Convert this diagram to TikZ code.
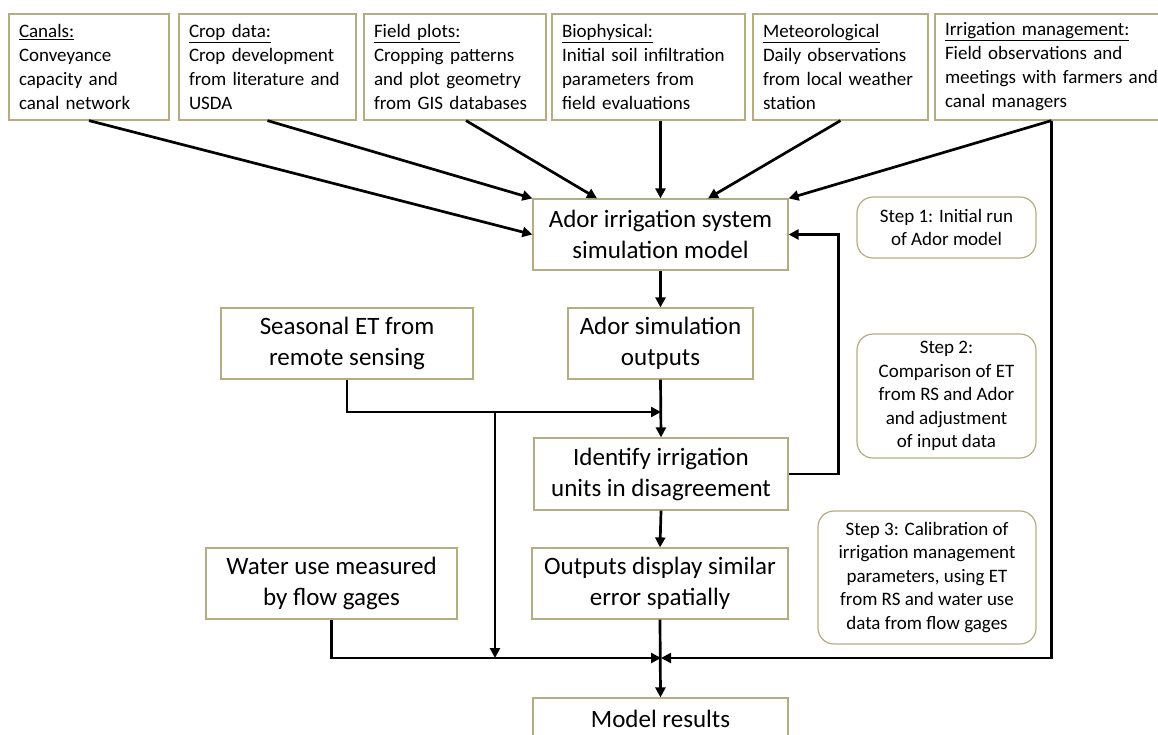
\documentclass[tikz,border=0pt]{standalone}
\usepackage{fontspec}
\setmainfont{Carlito}
\usetikzlibrary{arrows.meta}
\definecolor{boxc}{HTML}{B5AC82}
\tikzset{
  topbox/.style={draw=boxc, line width=1.2pt, minimum height=106pt, inner xsep=10pt, inner ysep=0pt,
    align=left, font=\fontsize{19}{24}\selectfont},
  midbox/.style={draw=boxc, line width=1.2pt, minimum height=71pt, inner sep=0pt,
    align=center, font=\fontsize{25}{31}\selectfont},
  stepbox/.style={draw=boxc, line width=1.2pt, rounded corners=16pt, inner sep=0pt,
    align=center, font=\fontsize{19}{23.5}\selectfont},
  arr/.style={line width=2.7pt, -{Triangle[length=10pt,width=10pt]}},
}
\begin{document}
\begin{tikzpicture}[x=1pt,y=-1pt]
\useasboundingbox (0,0) rectangle (1158,734);
\clip (0,0) rectangle (1158,734);
% top boxes
\node[topbox, minimum width=160pt, text width=140pt] (canals) at (89,67)
  {\underline{Canals:}\\Conveyance\\capacity and\\canal network};
\node[topbox, minimum width=177pt, text width=157pt] (crop) at (267.5,67)
  {\underline{Crop data:}\\Crop development\\from literature and\\USDA};
\node[topbox, minimum width=182pt, text width=162pt] (field) at (455,67)
  {\underline{Field plots:}\\Cropping patterns\\and plot geometry\\from GIS databases};
\node[topbox, minimum width=193pt, text width=173pt] (bio) at (648.5,67)
  {\underline{Biophysical:}\\Initial soil infiltration\\parameters from\\field evaluations};
\node[topbox, minimum width=175pt, text width=155pt] (meteo) at (840.5,67)
  {\underline{Meteorological}\\Daily observations\\from local weather\\station};
\node[topbox, minimum width=300pt, text width=280pt] (irrig) at (1085,67)
  {\underline{Irrigation management:}\\Field observations and\\meetings with farmers and\\canal managers};
% middle column
\node[midbox, minimum width=255pt] (ador) at (660.5,234.5) {Ador irrigation system\\simulation model};
\node[midbox, minimum width=185pt] (simout) at (660.5,343.5) {Ador simulation\\outputs};
\node[midbox, minimum width=252pt] (seasonal) at (347,343.5) {Seasonal ET from\\remote sensing};
\node[midbox, minimum width=254pt, minimum height=72pt] (ident) at (661,474) {Identify irrigation\\units in disagreement};
\node[midbox, minimum width=256pt] (outs) at (660,583.5) {Outputs display similar\\error spatially};
\node[midbox, minimum width=251pt] (water) at (331.5,583.5) {Water use measured\\by flow gages};
\node[midbox, minimum width=255pt, minimum height=42pt] (model) at (660.5,719) {Model results};
% step boxes
\node[stepbox, minimum width=179pt, minimum height=61pt] (s1) at (946.5,227.5) {Step 1: Initial run\\of Ador model};
\node[stepbox, minimum width=179pt, minimum height=124pt] (s2) at (946.5,396) {Step 2:\\Comparison of ET\\from RS and Ador\\and adjustment\\of input data};
\node[stepbox, minimum width=218pt, minimum height=133pt] (s3) at (927,577.5) {Step 3: Calibration of\\irrigation management\\parameters, using ET\\from RS and water use\\data from flow gages};
% junctions
\coordinate (j1) at (661,412);
\coordinate (jb) at (495,412);
\coordinate (m) at (661,658);
\coordinate (mb) at (495,658);
% arrows from top boxes
\draw[arr] (canals.south) -- (ador.west);
\draw[arr] (crop.south) -- (ador.north west);
\draw[arr] ([xshift=11pt]field.south) -- ([xshift=-63.5pt]ador.north);
\draw[arr] ([xshift=12pt]bio.south) -- (ador.north);
\draw[arr] (meteo.south) -- ([xshift=47.5pt]ador.north);
\draw[arr] ([xshift=117pt]irrig.south west) -- (ador.north east);
% main flow
\draw[arr] (ador.south) -- (simout.north);
\draw[arr] (simout.south) -- (ident.north);
\draw[arr] (seasonal.south) |- (j1);
\draw[arr] (jb) -- (mb);
\draw[arr] (ident.east) -- ++(50pt,0) |- (ador.east);
\draw[arr] (ident.south) -- (outs.north);
\draw[arr] (outs.south) -- (model.north);
\draw[arr] (water.south) |- (m);
\draw[arr] ([xshift=117pt]irrig.south west) |- (m);
\end{tikzpicture}
\end{document}
